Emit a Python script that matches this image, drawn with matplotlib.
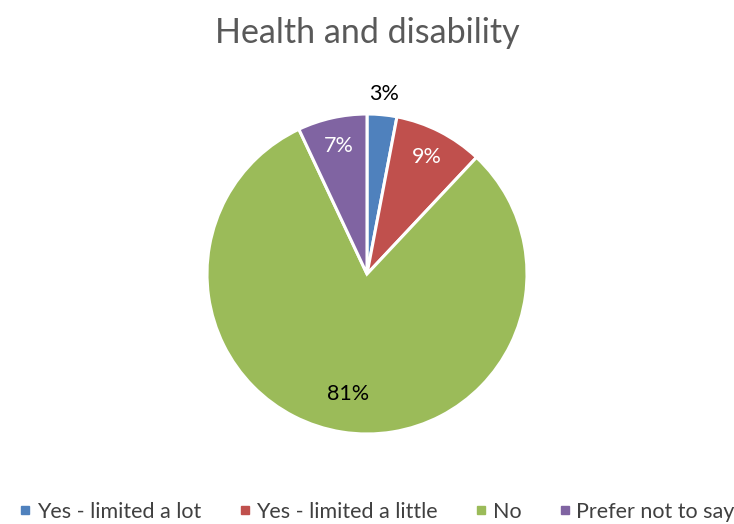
import numpy as np
import matplotlib.pyplot as plt
from matplotlib.lines import Line2D

plt.rcParams['font.family'] = ['Lato', 'DejaVu Sans']

categories = ['Yes - limited a lot', 'Yes - limited a little', 'No', 'Prefer not to say']
shares = [3, 9, 81, 7]
colors = ['#4F81BD', '#C0504D', '#9BBB59', '#8064A2']
label_colors = ['black', 'white', 'black', 'white']
label_radius = [1.13, 0.82, 0.76, 0.82]

fig = plt.figure(figsize=(7.34, 5.24), dpi=100)
# square axes holding the pie, centred under the title
ax = fig.add_axes([(367 - 160) / 734, (524 - 434) / 524, 320 / 734, 320 / 524])
wedges, _ = ax.pie(shares, colors=colors, startangle=90, counterclock=False,
                   radius=1, wedgeprops=dict(edgecolor='white', linewidth=2.2))
ax.set_xlim(-1, 1)
ax.set_ylim(-1, 1)
ax.set_aspect('equal')
ax.axis('off')

for w, val, c, r in zip(wedges, shares, label_colors, label_radius):
    mid = np.deg2rad((w.theta1 + w.theta2) / 2)
    ax.text(r * np.cos(mid), r * np.sin(mid), f'{val}%', color=c,
            fontsize=15.5, ha='center', va='center', clip_on=False)

fig.text(0.5, 1 - 33 / 524, 'Health and disability', ha='center', va='center',
         fontsize=24.5, color='#595959')

handles = [Line2D([], [], marker='s', linestyle='none', markersize=6,
                  markerfacecolor=c, markeredgecolor=c) for c in colors]
fig.legend(handles, categories, loc='center', bbox_to_anchor=(0.512, 1 - 512 / 524),
           ncol=4, frameon=False, fontsize=15.5, handletextpad=0.15,
           columnspacing=1.6, handlelength=0.8, labelcolor='#404040')

fig.savefig('out.png', dpi=100)
